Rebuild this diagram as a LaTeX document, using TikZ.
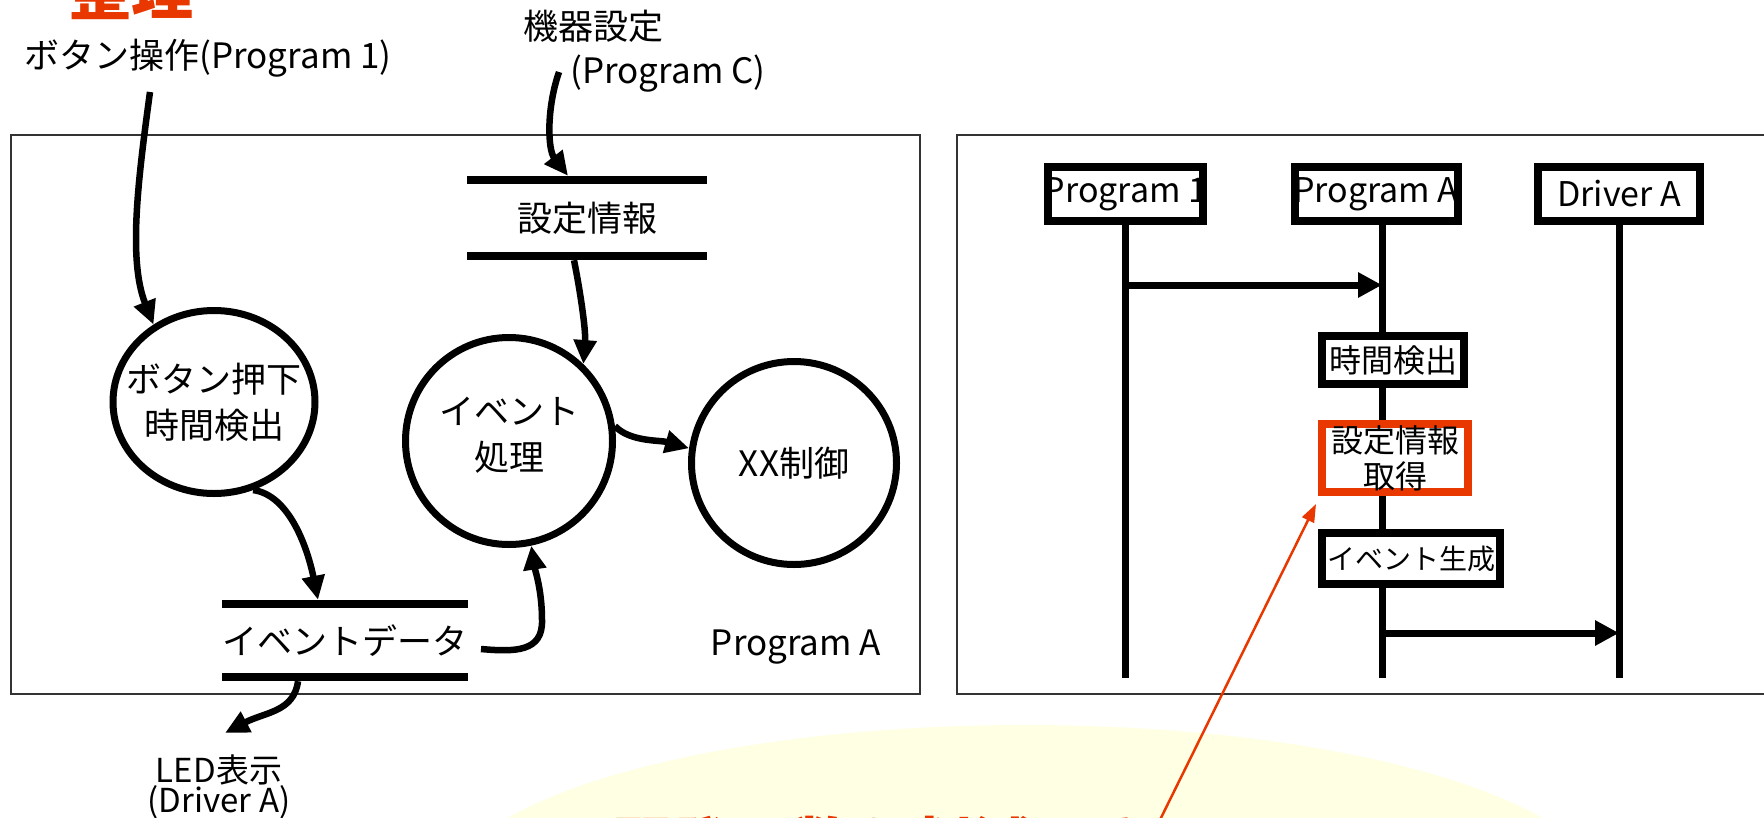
\documentclass[tikz,border=0pt]{standalone}
\usepackage{fontspec}
\setmainfont{Noto Sans CJK JP}
\usetikzlibrary{arrows.meta,shapes.geometric,calc}
\definecolor{redc}{RGB}{232,56,0}
\definecolor{yel}{RGB}{255,255,228}
\begin{document}
\begin{tikzpicture}[x=1pt,y=-1pt,
  txt/.style={font=\fontsize{35}{42}\selectfont, inner sep=0pt},
  ptxt/.style={font=\fontsize{35}{46}\selectfont, inner sep=0pt, align=center},
  proc/.style={ellipse, draw, line width=7pt, inner sep=0pt},
  store/.style={inner sep=0pt, font=\fontsize{35}{42}\selectfont},
  sline/.style={line width=8pt},
  flow/.style={line width=6.5pt, -{Triangle[length=24pt,width=22pt]}},
  frame/.style={line width=2.5pt, draw=black!80},
  actor/.style={draw, line width=8pt, inner sep=0pt, inner xsep=-14pt, minimum height=54pt, font=\fontsize{34}{40}\selectfont},
  act/.style={draw, fill=white, line width=8pt, inner sep=0pt, inner xsep=-10pt, align=center, font=\fontsize{32}{36}\selectfont},
  life/.style={line width=7pt},
  msg/.style={line width=7pt, -{Triangle[length=24pt,width=24pt]}},
  note/.style={redc, line width=2.5pt, -{Triangle[length=18pt,width=13pt]}}
]
\useasboundingbox (0,0) rectangle (1764,817);
\clip (0,0) rectangle (1764,817);
\fill[yel] (1025,895) ellipse [x radius=580pt, y radius=170pt];
% frames
\draw[frame] (11,135) rectangle (920,694);
\draw[frame] (957,135) rectangle (1790,694);
% red texts
\node[font=\bfseries\fontsize{62}{62}\selectfont, text=redc, anchor=base, inner sep=0pt] (title) at (131,14) {整理};
\node[font=\bfseries\fontsize{60}{60}\selectfont, text=redc, anchor=base west, inner sep=0pt] (notetxt) at (612,867) {開発工数を削減できる};
% DFD
\node[txt] (src1) at (208,58) {ボタン操作(Program 1)};
\node[txt] (src2) at (593,26) {機器設定};
\node[txt] (src2b) at (668,74) {(Program C)};
\node[proc, minimum width=202pt, minimum height=183pt] (c1) at (214,402) {};
\node[ptxt] (c1t) at (c1.center) {ボタン押下\\時間検出};
\node[proc, minimum width=207pt, minimum height=207pt] (c2) at (509,441) {};
\node[ptxt] (c2t) at ([yshift=6pt]c2.center) {イベント\\処理};
\node[proc, minimum width=205pt, minimum height=203pt] (c3) at (794,463) {};
\node[ptxt] (c3t) at (c3.center) {XX制御};
\node[store, minimum width=240pt, minimum height=76pt] (s1) at (587,218) {設定情報};
\draw[sline] (s1.north west) -- (s1.north east);
\draw[sline] (s1.south west) -- (s1.south east);
\node[store, minimum width=240pt, minimum height=73pt] (s2) at (345,640.5) {イベントデータ};
\draw[sline] (s2.north west) -- (s2.north east);
\draw[sline] (s2.south west) -- (s2.south east);
\node[txt] (pA) at (796,647) {Program A};
\node[inner sep=0pt, align=center, font=\fontsize{33}{29}\selectfont] (led) at (219,787) {LED表示\\(Driver A)};
% DFD flows
\coordinate (a1s) at (150,92);
\draw[flow] (a1s) .. controls (138,180) and (128,260) .. (c1.128);
\coordinate (a2s) at (559,72);
\draw[flow] (a2s) .. controls (546,110) and (548,150) .. ([xshift=-19pt,yshift=4pt]s1.north);
\draw[flow] ([xshift=-13pt,yshift=-4pt]s1.south) .. controls (580,290) and (586,330) .. (c2.46);
\draw[flow] (c2.8) .. controls (630,442) and (660,440) .. (c3.172);
\draw[flow] (c1.-66) .. controls (290,495) and (308,550) .. ([xshift=-27pt,yshift=4pt]s2.north);
\coordinate (a6s) at (481,649);
\draw[flow] (a6s) .. controls (515,652) and (543,652) .. (542,620) .. controls (542,590) and (535,570) .. (c2.-78);
\coordinate (ledtip) at (225,733);
\draw[flow] ([xshift=-47pt,yshift=-4pt]s2.south) .. controls (294,712) and (265,712) .. (ledtip);
% sequence diagram
\node[actor, minimum width=155pt] (p1) at (1125.5,194) {Program 1};
\node[actor, minimum width=163pt] (pa) at (1376,194) {Program A};
\node[actor, minimum width=162pt] (da) at (1619,194) {Driver A};
\coordinate (bot) at (0,678);
\coordinate (la) at ([xshift=6pt]pa.south);
\draw[life] (p1.south) -- (p1.south |- bot);
\draw[life] (la) -- (la |- bot);
\draw[life] (da.south) -- (da.south |- bot);
\node[act, minimum width=142pt, minimum height=48pt] (ta) at (1393,360) {時間検出};
\node[act, draw=redc, minimum width=146pt, minimum height=68pt] (ga) at (1395,458) {設定情報\\取得};
\node[act, minimum width=178pt, minimum height=51pt, font=\fontsize{28}{32}\selectfont] (ea) at (1411,558.5) {イベント生成};
\coordinate (y1) at (0,285);
\coordinate (y2) at (0,633);
\draw[msg] (p1.south |- y1) -- (la |- y1);
\draw[msg] (la |- y2) -- (da.south |- y2);
% note arrow
\coordinate (rs) at (1154,832);
\draw[note] (rs) -- ([xshift=-2pt,yshift=-8pt]ga.south west);
\end{tikzpicture}
\end{document}
